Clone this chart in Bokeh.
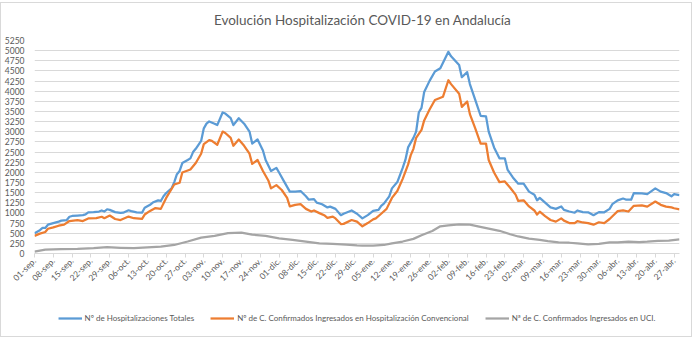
import math
from bokeh.plotting import figure
from bokeh.layouts import column
from bokeh.models import ColumnDataSource, FixedTicker, Range1d, Legend, LegendItem, Label
from bokeh.embed import file_html
from bokeh.resources import INLINE

# x = days since 01-sep
tick_labels = ["01-sep.", "08-sep.", "15-sep.", "22-sep.", "29-sep.", "06-oct.", "13-oct.",
               "20-oct.", "27-oct.", "03-nov.", "10-nov.", "17-nov.", "24-nov.", "01-dic.",
               "08-dic.", "15-dic.", "22-dic.", "29-dic.", "05-ene.", "12-ene.", "19-ene.",
               "26-ene.", "02-feb.", "09-feb.", "16-feb.", "23-feb.", "02-mar.", "09-mar.",
               "16-mar.", "23-mar.", "30-mar.", "06-abr.", "13-abr.", "20-abr.", "27-abr."]

blue_days = [0, 2, 3, 4, 5, 7, 9, 10, 12, 13, 14, 16, 18, 19, 20, 22, 24, 25, 26, 27, 28, 30, 32, 33,
             35, 36, 38, 40, 41, 43, 44, 46, 47, 48, 49, 51, 52, 53, 54, 55, 57, 58, 59, 60, 62, 63,
             64, 65, 67, 68, 70, 71, 73, 74, 76, 78, 80, 81, 83, 85, 86, 88, 90, 91, 93, 95, 97, 99,
             101, 102, 104, 105, 107, 109, 110, 112, 114, 115, 118, 120, 122, 124, 126, 128, 129, 130,
             132, 133, 135, 137, 138, 139, 141, 142, 143, 144, 145, 147, 149, 151, 154, 155, 158, 159,
             161, 162, 164, 166, 168, 169, 171, 173, 175, 176, 178, 180, 182, 184, 186, 187, 188, 190,
             192, 194, 196, 197, 199, 201, 202, 204, 206, 208, 210, 212, 214, 215, 217, 219, 220, 222,
             223, 226, 228, 231, 233, 235, 237, 238, 240]
blue_vals = [500, 575, 630, 630, 710, 750, 785, 810, 825, 905, 925, 935, 945, 965, 1015, 1020, 1035, 1060,
             1035, 1090, 1075, 1020, 1000, 1005, 1065, 1045, 1015, 1005, 1130, 1200, 1255, 1310, 1295,
             1410, 1490, 1605, 1760, 1955, 2035, 2230, 2305, 2345, 2500, 2580, 2775, 3085, 3200, 3255,
             3200, 3165, 3475, 3450, 3335, 3165, 3335, 3200, 3005, 2710, 2810, 2540, 2305, 2035, 2110,
             1995, 1760, 1525, 1525, 1540, 1410, 1330, 1340, 1255, 1215, 1135, 1155, 1100, 945, 980,
             1060, 980, 865, 945, 1050, 1075, 1175, 1230, 1410, 1605, 1760, 2110, 2305, 2615, 2850,
             3005, 3475, 3590, 3980, 4255, 4485, 4565, 4970, 4860, 4645, 4345, 4470, 4175, 3785, 3395,
             3380, 3005, 2615, 2345, 2345, 2070, 1875, 1720, 1720, 1525, 1450, 1310, 1370, 1255, 1135,
             1100, 1160, 1075, 1035, 1005, 1060, 1020, 1015, 945, 1020, 1015, 1100, 1215, 1310, 1355,
             1330, 1325, 1490, 1480, 1465, 1605, 1525, 1490, 1410, 1465, 1440]

orange_days = [0, 2, 4, 5, 7, 9, 11, 13, 16, 18, 20, 23, 25, 26, 28, 30, 32, 35, 37, 40, 41, 43, 45, 47,
               49, 52, 54, 55, 58, 60, 62, 63, 65, 66, 68, 70, 71, 73, 74, 76, 78, 80, 81, 83, 85, 87,
               88, 90, 92, 94, 95, 97, 99, 101, 103, 104, 106, 108, 109, 111, 112, 114, 115, 118, 120,
               122, 124, 126, 127, 129, 131, 133, 135, 137, 139, 140, 141, 142, 144, 145, 147, 149, 152,
               154, 155, 158, 159, 161, 162, 164, 166, 168, 169, 171, 173, 175, 177, 179, 180, 182, 184,
               186, 187, 188, 190, 192, 194, 196, 197, 199, 201, 202, 204, 206, 208, 210, 212, 214, 216,
               217, 219, 221, 223, 226, 228, 231, 233, 235, 237, 238, 240]
orange_vals = [435, 490, 530, 610, 645, 685, 710, 800, 820, 800, 865, 870, 905, 870, 935, 850, 825, 910,
               870, 855, 960, 1050, 1120, 1100, 1370, 1700, 1745, 1995, 2070, 2230, 2460, 2695, 2795,
               2775, 2680, 3005, 2970, 2850, 2655, 2810, 2655, 2460, 2210, 2305, 2035, 1800, 1605, 1685,
               1565, 1370, 1160, 1200, 1215, 1100, 1035, 1060, 995, 935, 880, 910, 865, 725, 730, 825,
               785, 670, 750, 840, 865, 980, 1100, 1370, 1540, 1840, 2190, 2425, 2580, 2850, 3045, 3280,
               3550, 3785, 3865, 4270, 4175, 3940, 3615, 3745, 3435, 3085, 2710, 2710, 2305, 1995, 1760,
               1775, 1620, 1450, 1295, 1310, 1160, 1060, 960, 1030, 920, 825, 785, 865, 810, 750, 750,
               800, 765, 750, 710, 770, 750, 850, 980, 1045, 1065, 1035, 1175, 1185, 1155, 1280, 1200,
               1155, 1135, 1115, 1090]

gray_days = [0, 4, 10, 16, 22, 27, 32, 37, 42, 47, 52, 57, 62, 67, 72, 77, 81, 86, 91, 96, 101, 106,
             111, 116, 120, 122, 126, 130, 133, 137, 141, 144, 148, 151, 154, 158, 162, 165, 169, 173,
             177, 180, 184, 188, 191, 195, 199, 202, 206, 210, 214, 217, 221, 225, 228, 232, 236, 240]
gray_vals = [45, 95, 110, 115, 130, 155, 140, 130, 150, 170, 210, 295, 390, 435, 500, 515, 465, 435,
             375, 335, 295, 250, 235, 220, 200, 195, 195, 210, 250, 295, 360, 450, 555, 670, 695, 715,
             710, 670, 615, 560, 475, 420, 365, 335, 305, 275, 265, 250, 225, 240, 275, 275, 290, 280,
             290, 310, 320, 350]

title_text = "Evolución Hospitalización COVID-19 en Andalucía"
series_names = ["Nº de Hospitalizaciones Totales",
                "Nº de C. Confirmados Ingresados en Hospitalización Convencional",
                "Nª de C. Confirmados Ingresados en UCI."]
series_colors = ["#5B9BD5", "#ED7D31", "#A5A5A5"]

FONT = "Lato"
TXT = "#595959"
GRID = "#D9D9D9"
W = 690


def strip(h):
    f = figure(width=W, height=h, output_backend="svg", toolbar_location=None,
               x_range=Range1d(0, W), y_range=Range1d(0, h), x_axis_type=None, y_axis_type=None,
               min_border_left=0, min_border_right=0, min_border_top=0, min_border_bottom=0)
    f.outline_line_color = None
    f.xgrid.grid_line_color = None
    f.ygrid.grid_line_color = None
    return f


# title strip
tf = strip(32)
tf.add_layout(Label(x=W / 2 + 6, y=16, text=title_text, text_align="center", text_baseline="middle",
                    text_font=FONT, text_font_size="13.5px", text_color=TXT))

# main chart
p = figure(width=W, height=265, output_backend="svg", toolbar_location=None,
           x_range=Range1d(0, 240), y_range=Range1d(0, 5250),
           min_border_left=31, min_border_right=12, min_border_top=5, min_border_bottom=47)
p.outline_line_color = None
p.xgrid.grid_line_color = None
p.ygrid.grid_line_color = GRID

p.yaxis.ticker = FixedTicker(ticks=list(range(0, 5251, 250)))
p.yaxis.axis_line_color = None
p.yaxis.major_tick_line_color = None
p.yaxis.minor_tick_line_color = None
p.yaxis.major_label_text_font = FONT
p.yaxis.major_label_text_font_size = "8.5px"
p.yaxis.major_label_text_color = TXT
p.yaxis.major_label_standoff = 4

xt = [7 * i for i in range(len(tick_labels))]
p.xaxis.ticker = FixedTicker(ticks=xt)
p.xaxis.major_label_overrides = {t: lab for t, lab in zip(xt, tick_labels)}
p.xaxis.axis_line_color = GRID
p.xaxis.major_tick_line_color = GRID
p.xaxis.major_tick_in = 0
p.xaxis.major_tick_out = 4
p.xaxis.minor_tick_line_color = None
p.xaxis.major_label_orientation = math.pi / 4
p.xaxis.major_label_text_font = FONT
p.xaxis.major_label_text_font_size = "8.5px"
p.xaxis.major_label_text_color = TXT
p.xaxis.major_label_standoff = 2

# legend strip below the chart (its lines share the series sources, kept off-range)
lf = strip(36)
lf.x_range = Range1d(-20, -10)
key_renderers = []
for d, v, c in [(blue_days, blue_vals, series_colors[0]),
                (orange_days, orange_vals, series_colors[1]),
                (gray_days, gray_vals, series_colors[2])]:
    src = ColumnDataSource(data=dict(x=d, y=v))
    p.line("x", "y", source=src, line_color=c, line_width=2.25, line_join="round")
    key_renderers.append(lf.line("x", "y", source=src, line_color=c, line_width=2.25))

legend = Legend(items=[LegendItem(label=n, renderers=[r]) for n, r in zip(series_names, key_renderers)],
                orientation="horizontal", location="center", border_line_color=None,
                background_fill_alpha=0, label_text_font=FONT, label_text_font_size="8px",
                label_text_color=TXT, glyph_width=24, glyph_height=10, label_standoff=3,
                spacing=16, padding=0, margin=0)
lf.add_layout(legend, "center")

layout = column(tf, p, lf, spacing=0)
layout.styles = {"border": "1px solid #D9D9D9", "margin-top": "2px"}

open("out.html", "w").write(file_html(layout, INLINE))
